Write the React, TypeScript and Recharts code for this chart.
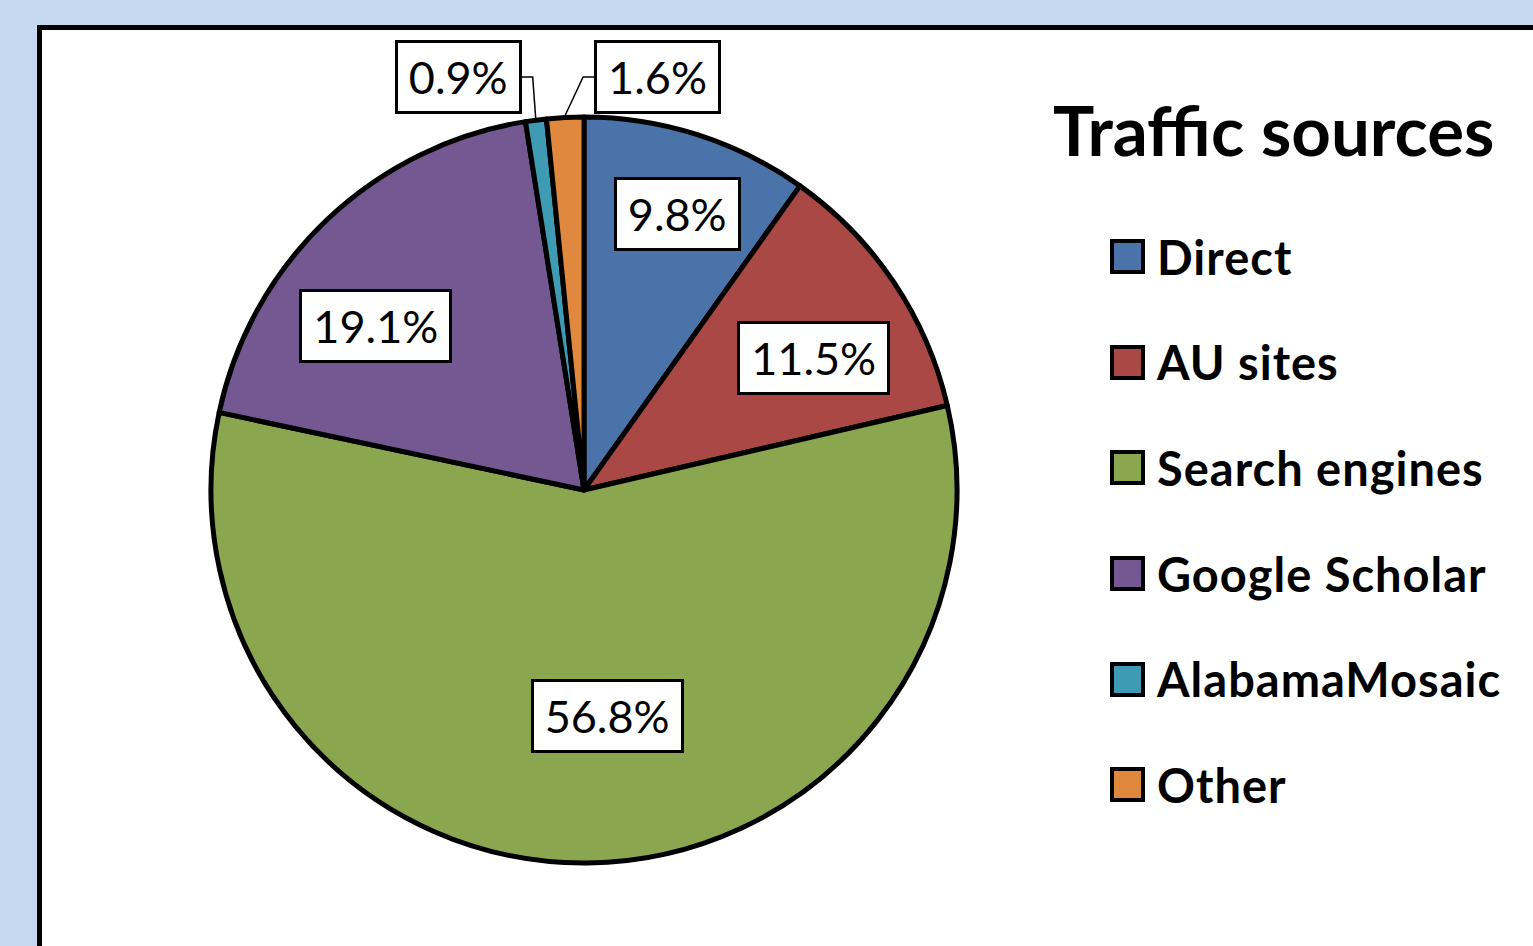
import { PieChart, Pie, Cell, Legend } from 'recharts';

const categories = ['Direct', 'AU sites', 'Search engines', 'Google Scholar', 'AlabamaMosaic', 'Other'];
const shares = [9.8, 11.5, 56.8, 19.1, 0.9, 1.6];
const sliceColors = ['#4a73a9', '#a94845', '#8aa64e', '#735891', '#3e9bb3', '#e0893e'];

// where Excel put each data label: inside boxes (radius factor + angle nudge), or callouts (side + elbow offset)
const insideRadius = [0.78, 0.71, 0.61, 0.71, 0, 0];
const insideAngleShift = [1, 4, -5.3, -8.3, 0, 0];
const calloutSide = [0, 0, 0, 0, -1, 1];
const calloutDx = [0, 0, 0, 0, -3, 18];

const FONT = 'Lato, "Open Sans", sans-serif';
const RAD = Math.PI / 180;

const chartData = categories.map((name, i) => ({ name, value: shares[i] }));

const LabelBox = ({ x, y, text, anchor }: { x: number; y: number; text: string; anchor: 'middle' | 'start' | 'end' }) => {
  const w = 300;
  const h = 80;
  const left = anchor === 'middle' ? x - w / 2 : anchor === 'start' ? x : x - w;
  const justify = anchor === 'middle' ? 'center' : anchor === 'start' ? 'flex-start' : 'flex-end';
  return (
    <foreignObject x={left} y={y - h / 2} width={w} height={h} style={{ overflow: 'visible' }}>
      <div style={{ width: w, height: h, display: 'flex', alignItems: 'center', justifyContent: justify }}>
        <div
          style={{
            background: '#fff',
            border: '3px solid #000',
            fontFamily: FONT,
            fontSize: 45,
            lineHeight: '68px',
            padding: '0 11px',
            color: '#000',
            whiteSpace: 'nowrap',
          }}
        >
          {text}
        </div>
      </div>
    </foreignObject>
  );
};

const renderLabel = (props: any) => {
  const { cx, cy, midAngle, outerRadius, index, value } = props;
  const text = `${value.toFixed(1)}%`;
  if (insideRadius[index] > 0) {
    const a = (-midAngle + insideAngleShift[index]) * RAD;
    const r = outerRadius * insideRadius[index];
    return <LabelBox key={index} x={cx + r * Math.cos(a)} y={cy + r * Math.sin(a)} text={text} anchor="middle" />;
  }
  const a = -midAngle * RAD;
  const ex = cx + (outerRadius + 2) * Math.cos(a);
  const ey = cy + (outerRadius + 2) * Math.sin(a);
  const side = calloutSide[index];
  const boxY = cy - outerRadius - 40;
  const elbowX = ex + calloutDx[index];
  const boxX = elbowX + side * 11;
  return (
    <g key={index}>
      <polyline points={`${ex},${ey} ${elbowX},${boxY} ${boxX},${boxY}`} fill="none" stroke="#000" strokeWidth={1.5} />
      <LabelBox x={boxX} y={boxY} text={text} anchor={side < 0 ? 'end' : 'start'} />
    </g>
  );
};

const renderLegend = () => (
  <div style={{ fontFamily: FONT, color: '#000' }}>
    <div style={{ fontSize: 69, fontWeight: 700, lineHeight: '80px', whiteSpace: 'nowrap' }}>Traffic sources</div>
    <div style={{ marginTop: 34, marginLeft: 57 }}>
      {categories.map((name, i) => (
        <div key={name} style={{ display: 'flex', alignItems: 'center', height: 105.6 }}>
          <div
            style={{
              width: 27,
              height: 27,
              background: sliceColors[i],
              border: '4px solid #000',
              marginRight: 12,
              flexShrink: 0,
            }}
          />
          <span style={{ fontSize: 47, fontWeight: 700, letterSpacing: 1, whiteSpace: 'nowrap' }}>{name}</span>
        </div>
      ))}
    </div>
  </div>
);

export default function App() {
  return (
    <div
      style={{
        position: 'fixed',
        left: 0,
        top: 0,
        width: 1533,
        height: 946,
        overflow: 'hidden',
        background: '#c6d9f0',
      }}
    >
      <div
        style={{
          position: 'absolute',
          left: 37,
          top: 25,
          width: 1600,
          height: 1000,
          border: '5px solid #000',
          background: '#fff',
        }}
      />
      <div style={{ position: 'absolute', left: 0, top: 0 }}>
        <PieChart width={1533} height={946} margin={{ top: 0, right: 0, bottom: 0, left: 0 }}>
          <Pie
            data={chartData}
            dataKey="value"
            nameKey="name"
            cx={584}
            cy={490}
            outerRadius={373}
            startAngle={90}
            endAngle={-270}
            stroke="#000"
            strokeWidth={5}
            strokeLinejoin="round"
            label={renderLabel}
            labelLine={false}
            isAnimationActive={false}
          >
            {chartData.map((d, i) => (
              <Cell key={d.name} fill={sliceColors[i]} />
            ))}
          </Pie>
          <Legend
            content={renderLegend}
            layout="vertical"
            align="right"
            verticalAlign="top"
            wrapperStyle={{ left: 1053, top: 90, width: 480 }}
          />
        </PieChart>
      </div>
    </div>
  );
}
